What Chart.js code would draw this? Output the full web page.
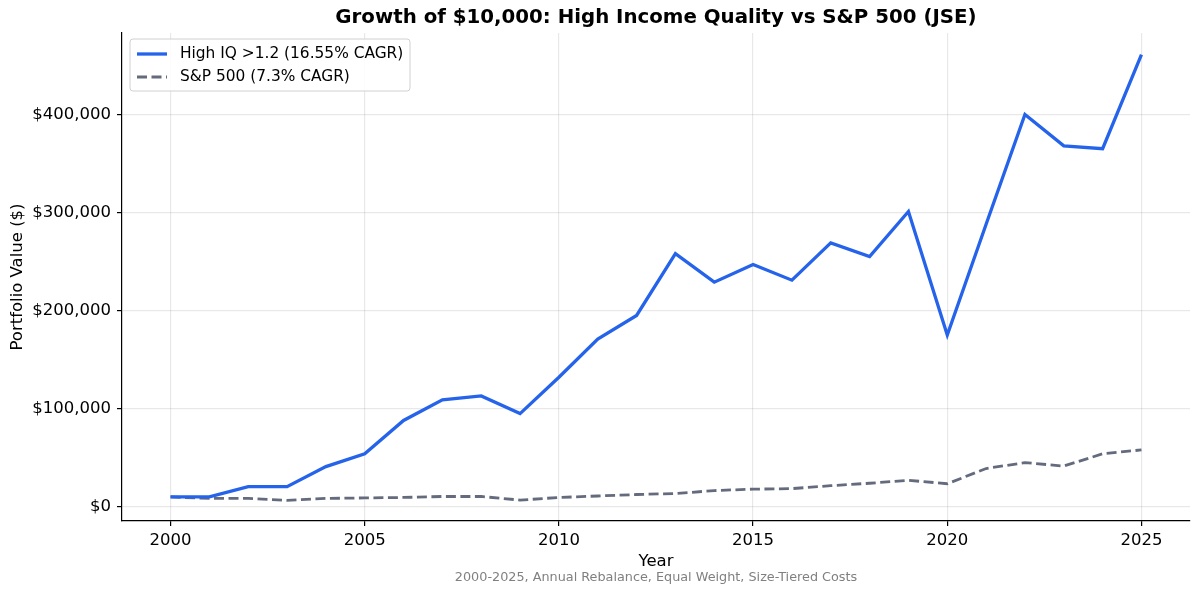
<!DOCTYPE html>
<html>
<head>
<meta charset="utf-8">
<script src="https://cdn.jsdelivr.net/npm/chart.js@4"></script>
<style>
  body { margin: 0; background: #fff; }
  #wrap { width: 1200px; height: 594px; }
</style>
</head>
<body>
<div id="wrap"><canvas id="myChart" width="1200" height="594"></canvas></div>
<script>
// years and portfolio values
const years = [2000, 2001, 2002, 2003, 2004, 2005, 2006, 2007, 2008, 2009, 2010, 2011, 2012,
  2013, 2014, 2015, 2016, 2017, 2018, 2019, 2020, 2021, 2022, 2023, 2024, 2025];
const highIQ = [10000, 10000, 20500, 20500, 41000, 54000, 88000, 109000, 113000, 95000, 132000, 171000, 195000,
  258000, 229000, 247000, 231000, 269000, 255000, 301000, 175000, 288000, 400000, 368000, 365000, 461000];
const sp500 = [10000, 8500, 8500, 6500, 8500, 9000, 9500, 10500, 10500, 6800, 9500, 11000, 12500,
  13500, 16500, 18000, 18500, 21500, 24000, 27000, 23500, 39000, 45000, 41500, 54000, 58000];
const xTicks = [2000, 2005, 2010, 2015, 2020, 2025];
const yTicks = [0, 100000, 200000, 300000, 400000];
const seriesNames = ['High IQ >1.2 (16.55% CAGR)', 'S&P 500 (7.3% CAGR)'];

const FONT = "'DejaVu Sans', sans-serif";
const BLUE = '#2563eb';
const GRAY = '#646b7d';

// titles, axis labels, footer and the boxed legend
const textPlugin = {
  id: 'texts',
  afterDraw(chart) {
    const c = chart.ctx;
    const a = chart.chartArea;
    const cx = (a.left + a.right) / 2;
    c.save();
    c.fillStyle = '#000';
    c.textAlign = 'center';
    c.textBaseline = 'middle';
    c.font = 'bold 19.8px ' + FONT;
    c.fillText('Growth of $10,000: High Income Quality vs S&P 500 (JSE)', cx, 18);
    c.font = '16.5px ' + FONT;
    c.fillText('Year', cx, 562);
    c.fillStyle = '#808080';
    c.font = '12.8px ' + FONT;
    c.fillText('2000-2025, Annual Rebalance, Equal Weight, Size-Tiered Costs', cx, 578);
    c.fillStyle = '#000';
    c.font = '16.5px ' + FONT;
    c.translate(18, (a.top + a.bottom) / 2);
    c.rotate(-Math.PI / 2);
    c.fillText('Portfolio Value ($)', 0, 0);
    c.restore();

    // legend
    c.save();
    const bx = a.left + 8, by = a.top + 6, bw = 280, bh = 52;
    c.beginPath();
    c.roundRect(bx, by, bw, bh, 3);
    c.fillStyle = 'rgba(255,255,255,0.85)';
    c.fill();
    c.strokeStyle = '#d0d0d0';
    c.lineWidth = 1;
    c.stroke();
    c.font = '15.4px ' + FONT;
    c.textAlign = 'left';
    c.textBaseline = 'middle';
    chart.data.datasets.forEach((ds, i) => {
      const y = by + 15 + i * 23;
      c.beginPath();
      c.strokeStyle = ds.borderColor;
      c.lineWidth = ds.borderWidth;
      c.setLineDash(ds.borderDash || []);
      c.moveTo(bx + 7, y);
      c.lineTo(bx + 37, y);
      c.stroke();
      c.setLineDash([]);
      c.fillStyle = '#000';
      c.fillText(seriesNames[i], bx + 50, y);
    });
    c.restore();
  }
};

const ctx = document.getElementById('myChart').getContext('2d');
new Chart(ctx, {
  type: 'line',
  data: {
    datasets: [{
      label: seriesNames[0],
      data: years.map((y, i) => ({ x: y, y: highIQ[i] })),
      borderColor: BLUE,
      borderWidth: 3.3,
      pointRadius: 0,
      tension: 0
    }, {
      label: seriesNames[1],
      data: years.map((y, i) => ({ x: y, y: sp500[i] })),
      borderColor: GRAY,
      borderWidth: 2.8,
      borderDash: [10, 4.5],
      pointRadius: 0,
      tension: 0
    }]
  },
  options: {
    responsive: false,
    animation: false,
    devicePixelRatio: 1,
    layout: { padding: { top: 33, right: 10, left: 0, bottom: 0 } },
    plugins: {
      legend: { display: false },
      title: { display: false },
      tooltip: { enabled: false }
    },
    scales: {
      x: {
        type: 'linear',
        min: 1998.75,
        max: 2026.25,
        afterFit: s => { s.height = 73; },
        afterBuildTicks: s => { s.ticks = xTicks.map(v => ({ value: v })); },
        ticks: {
          font: { family: FONT, size: 16.5 },
          color: '#000',
          padding: 5,
          maxRotation: 0,
          callback: v => String(v)
        },
        grid: { color: 'rgba(0,0,0,0.09)', lineWidth: 1.2, tickColor: '#000', tickLength: 5 },
        border: { color: '#000', width: 1.2 }
      },
      y: {
        min: -14500,
        max: 483000,
        afterFit: s => { s.width = 122; },
        afterBuildTicks: s => { s.ticks = yTicks.map(v => ({ value: v })); },
        ticks: {
          font: { family: FONT, size: 16.5 },
          color: '#000',
          padding: 6,
          callback: v => '$' + v.toLocaleString('en-US')
        },
        grid: { color: 'rgba(0,0,0,0.09)', lineWidth: 1.2, tickColor: '#000', tickLength: 5 },
        border: { color: '#000', width: 1.2 }
      }
    }
  },
  plugins: [textPlugin]
});
</script>
</body>
</html>
